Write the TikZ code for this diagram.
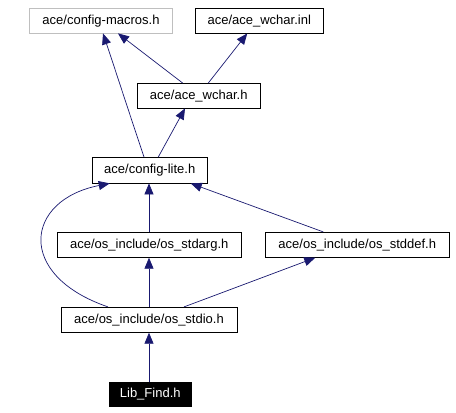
\documentclass[tikz,border=0pt]{standalone}
\usepackage{fontspec}
\setmainfont{Liberation Sans}
\usetikzlibrary{arrows.meta}
\definecolor{edgeblue}{RGB}{25,25,112}
\begin{document}
\begin{tikzpicture}[x=1pt,y=-1pt,
  box/.style={draw=black,line width=0.8pt,inner sep=0pt,minimum height=24.5pt,font=\fontsize{13}{15}\selectfont},
  graybox/.style={box,draw={rgb,255:red,191;green,191;blue,191}},
  darkbox/.style={box,fill=black,text=white},
  edge/.style={draw=edgeblue,line width=0.7pt,{Triangle[length=11pt,width=9pt,fill=edgeblue]}-}]
\useasboundingbox (0,0) rectangle (456,413);
\node[graybox,minimum width=143pt] (cm) at (101,20.75) {ace/config-macros.h};
\node[box,minimum width=127.5pt] (inl) at (259.25,20.75) {ace/ace\_wchar.inl};
\node[box,minimum width=122.5pt] (wh) at (198.75,95.75) {ace/ace\_wchar.h};
\node[box,minimum width=114.5pt,minimum height=25.5pt] (cl) at (149.75,170.25) {ace/config-lite.h};
\node[box,minimum width=183.5pt,minimum height=25pt] (sa) at (149.25,244.8) {ace/os\_include/os\_stdarg.h};
\node[box,minimum width=183.5pt,minimum height=25pt] (sd) at (357.25,244.8) {ace/os\_include/os\_stddef.h};
\node[box,minimum width=176pt,minimum height=25pt] (sio) at (149,319.8) {ace/os\_include/os\_stdio.h};
\node[darkbox,minimum width=82.5pt] (lf) at (150.25,394.5) {Lib\_Find.h};
% edges (arrow at target)
\draw[edge] ([xshift=2pt]cm.south) .. controls (112,60) and (125,100) .. ([xshift=-5.75pt]cl.north);
\draw[edge] ([xshift=17pt]cm.south) -- ([xshift=-16pt]wh.north);
\draw[edge] ([xshift=-12pt]inl.south) -- ([xshift=9.5pt]wh.north);
\draw[edge] ([xshift=-13.75pt]wh.south) -- ([xshift=8.5pt]cl.north);
\draw[edge] ([xshift=-0.75pt]cl.south) -- ([xshift=-0.25pt]sa.north);
\draw[edge] ([xshift=41pt]cl.south) -- ([xshift=-34pt]sd.north);
\draw[edge] ([xshift=-40pt]cl.south) .. controls (25,200) and (15,275) .. ([xshift=-41pt]sio.north);
\draw[edge] ([xshift=-0.25pt]sa.south) -- (sio.north);
\draw[edge] ([xshift=-42pt]sd.south) -- ([xshift=35pt]sio.north);
\draw[edge] (sio.south) -- ([xshift=-1.25pt]lf.north);
\end{tikzpicture}
\end{document}
